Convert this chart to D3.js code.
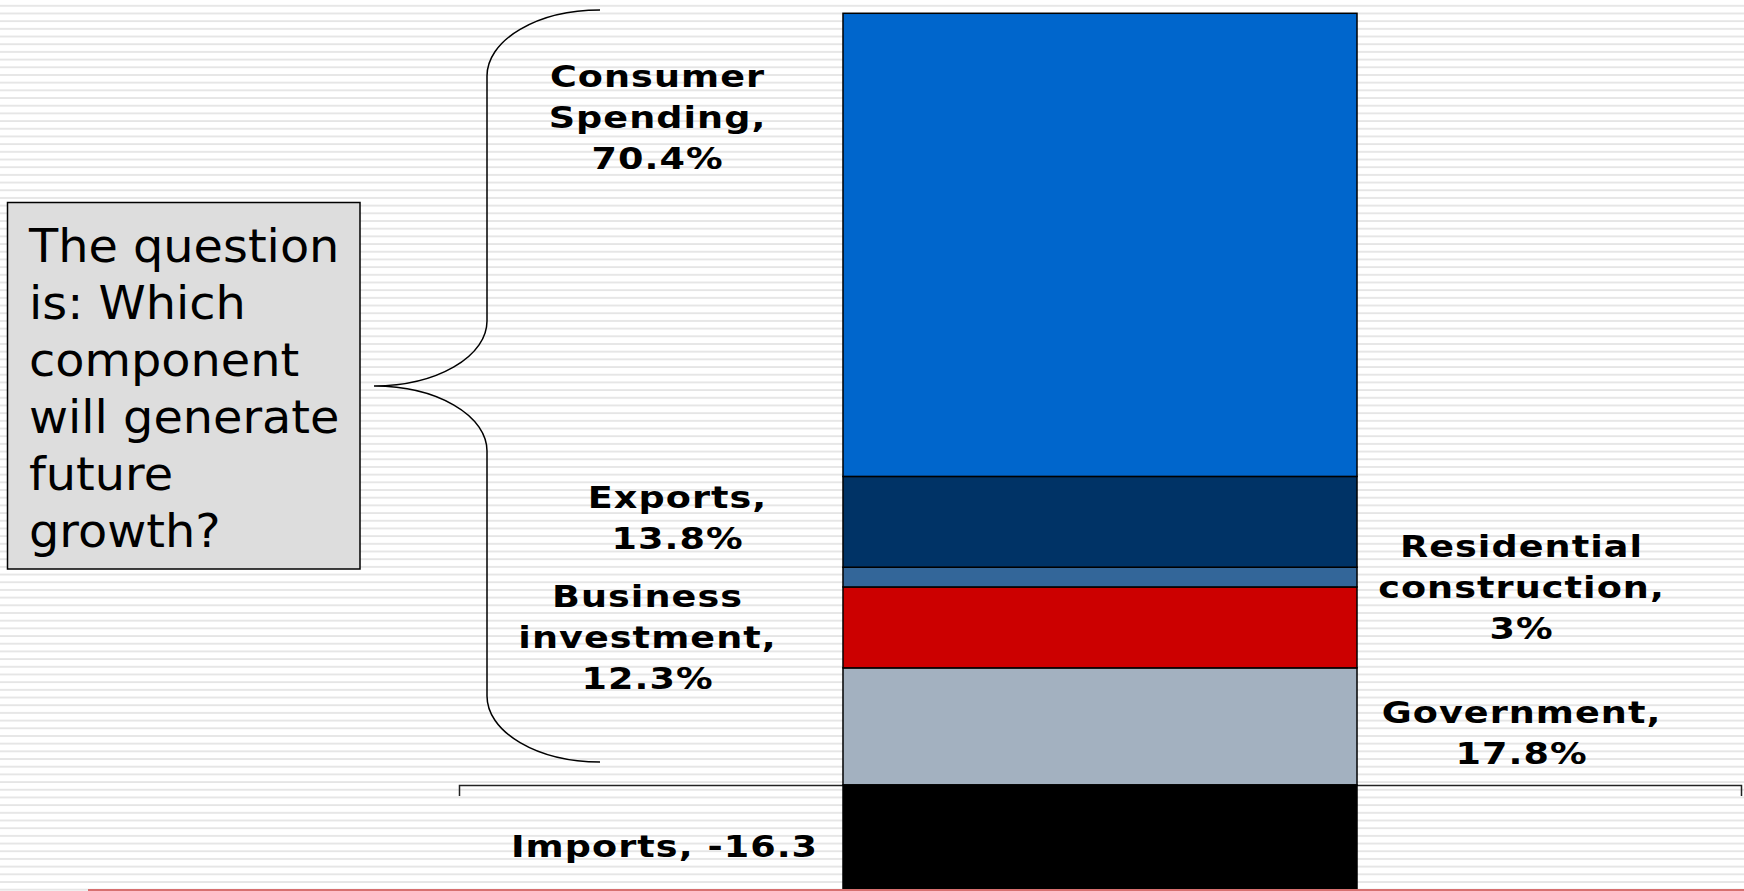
<!DOCTYPE html>
<html>
<head>
<meta charset="utf-8">
<script src="https://cdn.jsdelivr.net/npm/d3@7"></script>
<style>
  html, body { margin: 0; padding: 0; background: #ffffff; overflow: hidden; }
  svg { display: block; }
</style>
</head>
<body>
<svg id="chart" width="1744" height="891"></svg>
<script>
// ---------------- DATA ----------------
const category = ["GDP"];
const components = ["Consumer Spending", "Exports", "Residential construction", "Business investment", "Government", "Imports"];
const shares = [70.4, 13.8, 3, 12.3, 17.8, -16.3];
const stackOrder = ["Government", "Business investment", "Residential construction", "Exports", "Consumer Spending", "Imports"];
const labelLines = [
  ["Consumer", "Spending,", "70.4%"],
  ["Exports,", "13.8%"],
  ["Residential", "construction,", "3%"],
  ["Business", "investment,", "12.3%"],
  ["Government,", "17.8%"],
  ["Imports, -16.3"]
];
const questionLines = ["The question", "is: Which", "component", "will generate", "future", "growth?"];

// ---------------- STYLE / LAYOUT ----------------
const W = 1744, H = 891;
const palette = ["#0066CC", "#003366", "#336699", "#CC0000", "#A3B1C0", "#000000"];
const labelLayout = [
  { x: 657, y: 87 },
  { x: 677, y: 508 },
  { x: 1521, y: 557 },
  { x: 647, y: 607 },
  { x: 1521, y: 723 },
  { x: 664, y: 857 }
];
const lineH = 41;
const ls = 0.9;       // letter spacing
const stretch = 1.18; // horizontal glyph stretch

const svg = d3.select("#chart");

// background stripes
const defs = svg.append("defs");
const pat = defs.append("pattern")
  .attr("id", "stripes")
  .attr("patternUnits", "userSpaceOnUse")
  .attr("width", 20).attr("height", 7.686);
pat.append("rect").attr("width", 20).attr("height", 7.686).attr("fill", "#ffffff");
pat.append("rect").attr("y", 5.0).attr("width", 20).attr("height", 1.6).attr("fill", "#e2e2e2");
svg.append("rect").attr("width", W).attr("height", H).attr("fill", "url(#stripes)");

// scales
const x = d3.scaleBand().domain(category).range([459, 1741]).padding(0.4276);
const y = d3.scaleLinear().domain([-16.3, 117.3]).range([892.2, 13.3]);
const color = d3.scaleOrdinal().domain(components).range(palette);

// build table for stack
const row = { cat: category[0] };
components.forEach((c, i) => row[c] = shares[i]);
const series = d3.stack().keys(stackOrder).offset(d3.stackOffsetDiverging)([row]);

// axis (category axis, no labels)
const axis = d3.axisBottom(x).tickSizeInner(0).tickSizeOuter(11).tickFormat("");
const gAxis = svg.append("g").attr("transform", `translate(0,${y(0)})`).call(axis);
gAxis.selectAll(".tick").remove();
gAxis.select(".domain").attr("stroke", "#222").attr("stroke-width", 1.5);

// bars
svg.append("g").selectAll("g")
  .data(series)
  .join("g")
  .attr("fill", d => color(d.key))
  .selectAll("rect")
  .data(d => d)
  .join("rect")
  .attr("x", d => x(d.data.cat))
  .attr("width", x.bandwidth())
  .attr("y", d => y(Math.max(d[0], d[1])))
  .attr("height", d => Math.abs(y(d[0]) - y(d[1])))
  .attr("stroke", "#000")
  .attr("stroke-width", 1.5);

// labels
const gl = svg.append("g")
  .attr("font-family", "'DejaVu Sans', Verdana, sans-serif")
  .attr("font-weight", "bold")
  .attr("font-size", 31)
  .attr("fill", "#000");
components.forEach((c, i) => {
  const L = labelLayout[i];
  const t = gl.append("text")
    .attr("transform", `translate(${L.x + ls * stretch / 2},0) scale(${stretch},1)`)
    .attr("text-anchor", "middle")
    .attr("letter-spacing", ls);
  labelLines[i].forEach((line, j) => {
    t.append("tspan").attr("x", 0).attr("y", L.y + j * lineH).text(line);
  });
});

// question box
svg.append("rect")
  .attr("x", 7.5).attr("y", 202.5).attr("width", 352.5).attr("height", 366.5)
  .attr("fill", "#DDDDDD").attr("stroke", "#000").attr("stroke-width", 1.5);
const qt = svg.append("text")
  .attr("transform", "translate(29,0) scale(1.05,1)")
  .attr("font-family", "'DejaVu Sans', Verdana, sans-serif")
  .attr("font-size", 45.5)
  .attr("fill", "#000");
questionLines.forEach((line, j) => {
  qt.append("tspan").attr("x", 0).attr("y", 262 + j * 57).text(line);
});

// curly brace
svg.append("path")
  .attr("d", "M600,10 A113,66 0 0 0 487,76 V321 A113,65 0 0 1 374,386 A113,65 0 0 1 487,451 V696 A113,66 0 0 0 600,762")
  .attr("fill", "none").attr("stroke", "#000").attr("stroke-width", 1.5);

// red footer line
svg.append("line")
  .attr("x1", 88).attr("x2", W).attr("y1", 890).attr("y2", 890)
  .attr("stroke", "#D77070").attr("stroke-width", 2);
</script>
</body>
</html>
